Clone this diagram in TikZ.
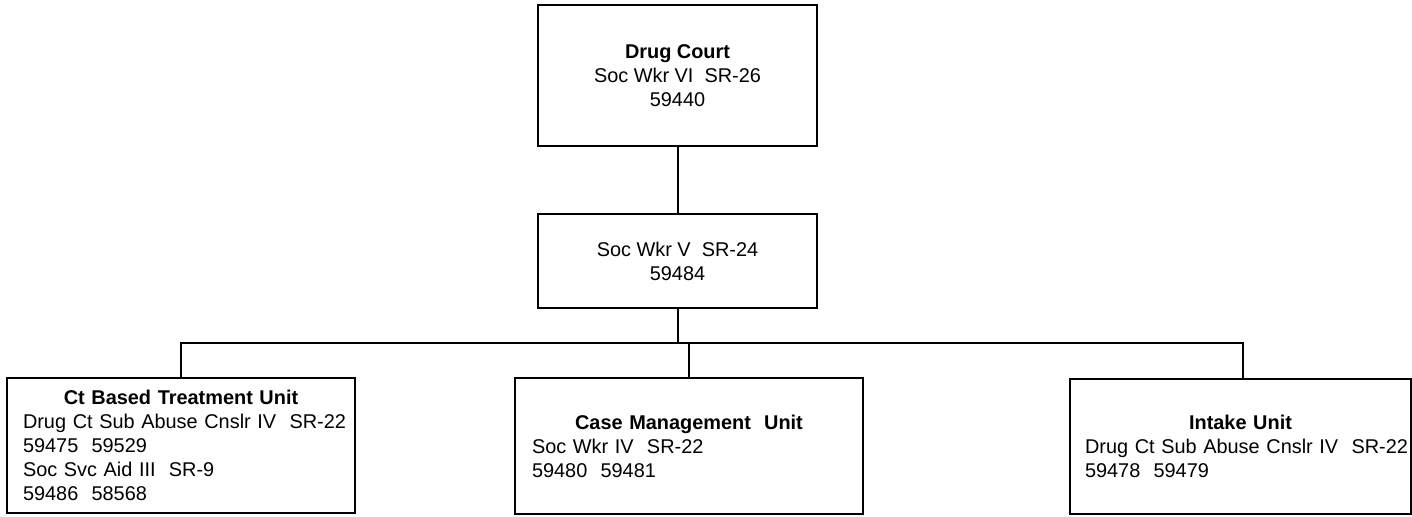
\documentclass[tikz,border=0pt]{standalone}
\usepackage{fontspec}
\setmainfont{Liberation Sans}
% centred, bold heading line inside a left-aligned unit box
\newcommand\unithead[1]{\makebox[\hsize][c]{\bfseries #1}}
\begin{document}
\begin{tikzpicture}[x=0.5pt,y=-0.5pt,
  font=\fontsize{9.95}{12}\selectfont,
  box/.style={draw, line width=1pt, rectangle, inner sep=0pt},
  post/.style={box, align=center},
  unit/.style={box, align=left},
  link/.style={draw, line width=1pt}]
\useasboundingbox (0,0) rectangle (1412,516);

% head of the court and deputy
\node[post, minimum width=139.5pt, minimum height=70.5pt] (court) at (677.5,75.5)
  {\textbf{Drug Court}\\Soc Wkr VI~~SR-26\\59440};
\node[post, minimum width=139.5pt, minimum height=47pt] (deputy) at (677.5,261)
  {Soc Wkr V~~SR-24\\59484};

% the three units
\node[unit, minimum width=174pt, minimum height=67.5pt, text width=158pt] (cbt) at (181,445.5)
  {\unithead{Ct Based Treatment Unit}\\
   \mbox{Drug Ct Sub Abuse Cnslr IV~~SR-22}\\
   \mbox{59475~~59529}\\
   \mbox{Soc Svc Aid III~~SR-9}\\
   \mbox{59486~~58568}};
\node[unit, minimum width=174pt, minimum height=68pt, text width=157pt] (casemgmt) at (689,446)
  {\unithead{Case Management~~Unit}\\
   \mbox{Soc Wkr IV~~SR-22}\\
   \mbox{59480~~59481}};
\node[unit, minimum width=170.5pt, minimum height=67.5pt, text width=155.5pt] (intake) at (1240.5,446.5)
  {\unithead{Intake Unit}\\
   \mbox{Drug Ct Sub Abuse Cnslr IV~~SR-22}\\
   \mbox{59478~~59479}};

% reporting lines
\coordinate (bus) at (0,343);
\draw[link] (court.south) -- (deputy.north);
\draw[link] (deputy.south) -- (deputy.south |- bus) -| (cbt.north);
\draw[link] (deputy.south) -- (deputy.south |- bus) -| (casemgmt.north);
\draw[link] (deputy.south) -- (deputy.south |- bus) -| ([xshift=1.25pt]intake.north);
\end{tikzpicture}
\end{document}
